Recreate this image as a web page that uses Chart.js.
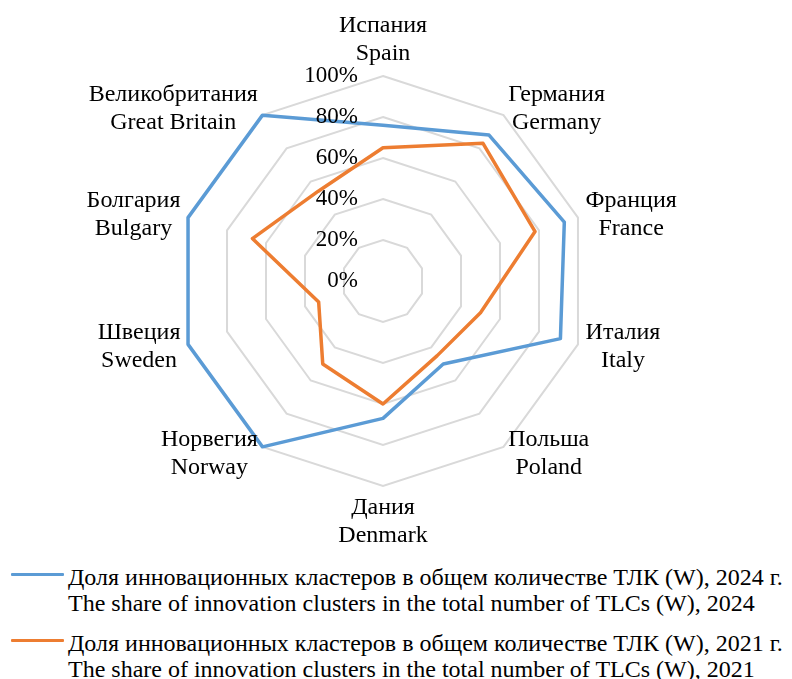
<!DOCTYPE html>
<html>
<head>
<meta charset="utf-8">
<script src="https://cdn.jsdelivr.net/npm/chart.js@4.4.1/dist/chart.umd.min.js"></script>
<style>
  body { margin: 0; background: #fff; font-family: "Liberation Serif", "Times New Roman", serif; overflow: hidden; }
  #wrap { position: relative; width: 792px; height: 679px; overflow: hidden; }
  #chartBox { position: absolute; left: 0; top: 0; width: 792px; height: 560px; }
  .leg { position: absolute; left: 0; width: 792px; font-size: 24px; line-height: 26px; color: #000; }
  .leg .sw { position: absolute; left: 11px; width: 53px; height: 3px; border-radius: 1px; }
  .leg .txt { position: absolute; left: 68px; white-space: nowrap; }
</style>
</head>
<body>
<div id="wrap">
  <div id="chartBox"><canvas id="chart"></canvas></div>
  <div class="leg" style="top:564px"><div class="sw" style="top:9px;background:#5b9bd5"></div><div class="txt" id="leg1"></div></div>
  <div class="leg" style="top:630px"><div class="sw" style="top:9px;background:#ed7d31"></div><div class="txt" id="leg2"></div></div>
</div>
<script>
// countries, ru + en
const countriesRu = ["Испания", "Германия", "Франция", "Италия", "Польша", "Дания", "Норвегия", "Швеция", "Болгария", "Великобритания"]
const countriesEn = ["Spain", "Germany", "France", "Italy", "Poland", "Denmark", "Norway", "Sweden", "Bulgary", "Great Britain"]

const share2024 = [76, 88, 93, 91, 50, 67, 100, 100, 100, 100]
const share2021 = [65, 83, 78, 50, 45, 60, 50, 33, 67, 54]

const tickValues = [0, 20, 40, 60, 80, 100]

const legend2024 = ["Доля инновационных кластеров в общем количестве ТЛК (W), 2024 г.", "The share of innovation clusters in the total number of TLCs (W), 2024"]
const legend2021 = ["Доля инновационных кластеров в общем количестве ТЛК (W), 2021 г.", "The share of innovation clusters in the total number of TLCs (W), 2021"]

document.getElementById("leg1").innerHTML = legend2024.join("<br>")
document.getElementById("leg2").innerHTML = legend2021.join("<br>")

const fontFam = "'Liberation Serif', 'Times New Roman', serif"

// draws tick labels left of the axis and the two-line country labels
const labelPlugin = {
  id: "labelPlugin",
  afterDraw(chart) {
    const scale = chart.scales.r
    const ctx = chart.ctx
    ctx.save()
    ctx.fillStyle = "#000"
    ctx.textBaseline = "middle"

    ctx.font = "23px " + fontFam
    ctx.textAlign = "right"
    tickValues.forEach(v => {
      const d = scale.getDistanceFromCenterForValue(v)
      ctx.fillText(v + "%", scale.xCenter - 25, scale.yCenter - d)
    })

    ctx.font = "24px " + fontFam
    ctx.textAlign = "center"
    const lh = 28
    for (let i = 0; i < countriesRu.length; i++) {
      const p = scale.getPointPosition(i, scale.drawingArea + 8)
      const w = Math.max(ctx.measureText(countriesRu[i]).width, ctx.measureText(countriesEn[i]).width)
      const dx = p.x - scale.xCenter
      let cx, top
      if (Math.abs(dx) < 1) {
        cx = p.x
        top = p.y < scale.yCenter ? p.y - 2 * lh : p.y
      } else {
        cx = dx > 0 ? p.x + w / 2 : p.x - w / 2
        top = p.y - lh
      }
      ctx.fillText(countriesRu[i], cx, top + lh / 2)
      ctx.fillText(countriesEn[i], cx, top + lh * 1.5)
    }
    ctx.restore()
  }
}

const chart = new Chart(document.getElementById("chart"), {
  type: "radar",
  data: {
    labels: countriesEn,
    datasets: [
      {
        label: legend2024[0],
        data: share2024,
        borderColor: "#5b9bd5",
        borderWidth: 3.5,
        fill: false,
        pointRadius: 0,
        pointHoverRadius: 0
      },
      {
        label: legend2021[0],
        data: share2021,
        borderColor: "#ed7d31",
        borderWidth: 3.5,
        fill: false,
        pointRadius: 0,
        pointHoverRadius: 0
      }
    ]
  },
  options: {
    responsive: true,
    maintainAspectRatio: false,
    animation: false,
    layout: { padding: { top: 76, bottom: 74, left: 178, right: 204 } },
    plugins: {
      legend: { display: false },
      tooltip: { enabled: false }
    },
    elements: { line: { tension: 0, borderJoinStyle: "round" } },
    scales: {
      r: {
        min: 0,
        max: 100,
        ticks: { stepSize: 20, display: false },
        angleLines: { display: false },
        grid: { color: "#d9d9d9", lineWidth: 2 },
        pointLabels: { display: false }
      }
    }
  },
  plugins: [labelPlugin]
})
</script>
</body>
</html>
